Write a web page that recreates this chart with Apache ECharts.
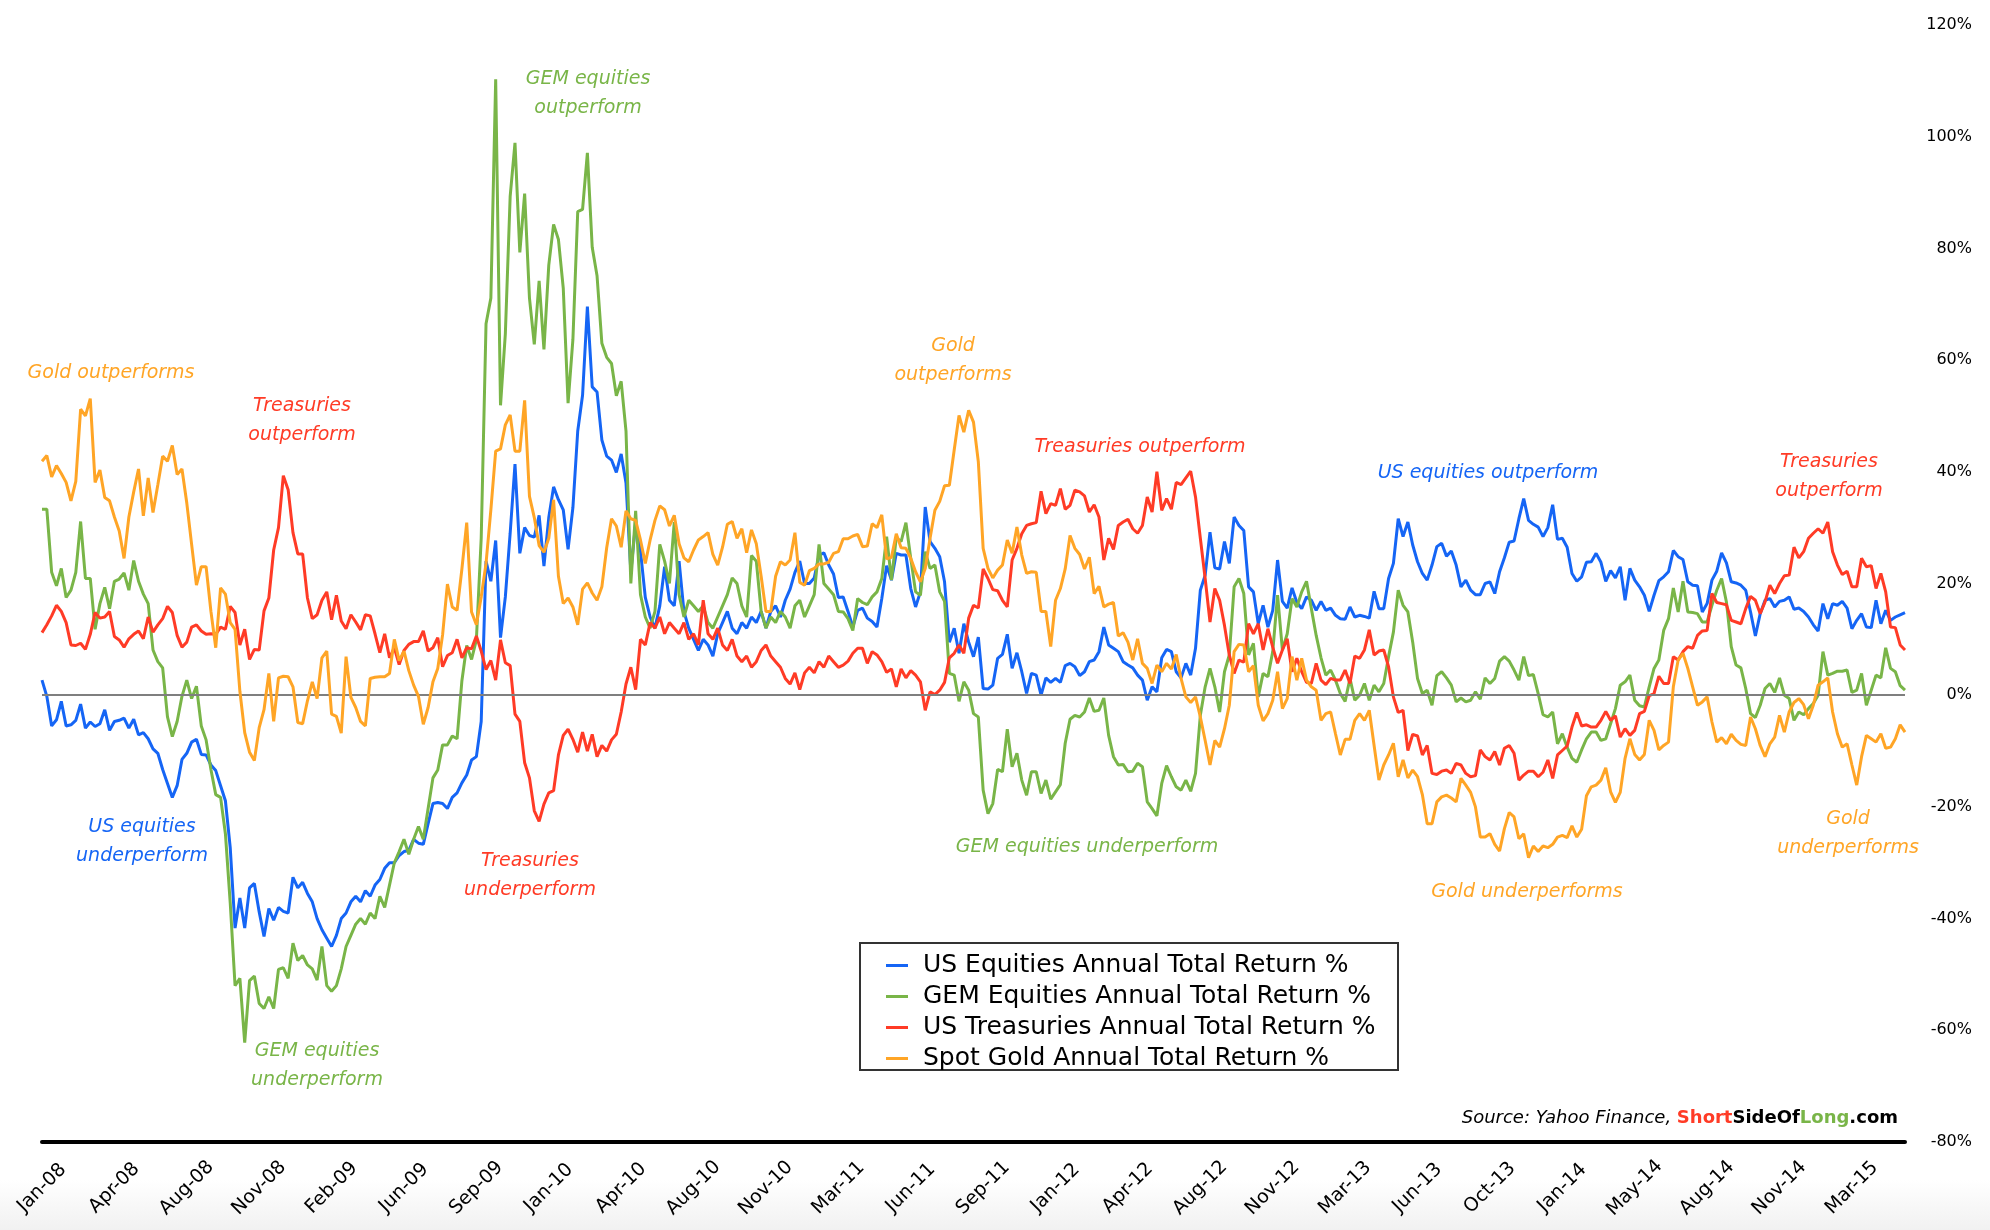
<!DOCTYPE html>
<html><head><meta charset="utf-8">
<script src="https://cdn.jsdelivr.net/npm/echarts@6/dist/echarts.min.js"></script>
<style>html,body{margin:0;padding:0;background:#fff}#c{width:1990px;height:1230px}</style>
</head><body><div id="c"></div>
<script>
// x-axis tick labels, one every 15 weekly observations
const tickLabels = ['Jan-08','Apr-08','Aug-08','Nov-08','Feb-09','Jun-09','Sep-09','Jan-10','Apr-10','Aug-10','Nov-10','Mar-11','Jun-11','Sep-11','Jan-12','Apr-12','Aug-12','Nov-12','Mar-13','Jun-13','Oct-13','Jan-14','May-14','Aug-14','Nov-14','Mar-15'];

const usEquities = [2.7,-0.2,-5.5,-4.4,-1.1,-5.5,-5.3,-4.5,-1.6,-5.9,
-4.8,-5.6,-5.1,-2.6,-6.3,-4.7,-4.5,-4.1,-5.9,-4.3,
-7.1,-6.7,-7.8,-9.6,-10.4,-13.3,-15.8,-18.3,-16.2,-11.5,
-10.4,-8.4,-7.9,-10.6,-10.7,-12.5,-13.5,-16.2,-18.9,-27.3,
-41.7,-36.3,-41.7,-34.5,-33.7,-38.8,-43.2,-38.2,-40.3,-38.0,
-38.7,-39.0,-32.6,-34.5,-33.5,-35.5,
-37,-40,-42,-43.5,-45,-43,-40,-39,-37,-36,-37,-35,-36,-34,-33,-31,-30,-30,
-28.7,-28.0,-27.8,-25.8,-26.5,-26.7,-23.0,-19.4,-19.2,-19.4,-20.3,-18.3,-17.5,-15.7,-14.3,-11.6,-11.0,-4.7,24.0,20.4,27.7,10.3,17.6,29.0,41.4,25.4,30.0,28.6,28.3,32.2,23.1,31.8,37.3,35.0,33.2,26.1,33.6,47.3,53.7,
69.6,55.2,54.3,45.7,42.8,42.1,39.9,43.2,38.0,22.1,30.8,25.8,17.5,
14,12,16,23,17,16,24,15,12,10,8,10,9,7,11,13,15,12,11,13,12,14,13,15,12,15,16,14,17,19,22,24,20,
20,21,25,25.5,23.3,21.7,17.5,
17.6,15.0,12.2,15.2,15.6,13.8,13.2,12.2,17.3,23.2,20.6,25.4,25.1,25.1,19.1,15.8,18.5,33.7,27.5,26.3,24.8,20.3,9.5,12.0,7.5,12.8,9.5,6.9,10.4,1.2,1.1,1.8,6.6,7.3,10.9,4.8,7.6,4.2,0.3,3.9,3.6,0,3.1,2.3,3.0,2.3,5.3,5.7,5.1,3.5,4.2,6.0,6.3,7.8,12.2,9.0,8.4,7.8,6.0,
5.4,4.9,3.6,2.7,-0.9,1.5,0.6,6.7,8.2,7.8,4.2,3.1,5.7,3.6,8.4,18.8,21.5,29.2,22.8,22.6,27.5,23.6,31.9,30.4,29.5,19.4,18.5,12.8,16.1,12.2,15.2,24.2,16.8,15.6,19.2,16.6,15.5,17.6,17.0,15.2,16.8,15.2,15.6,14.3,13.7,13.6,15.8,14.0,14.3,14.1,13.8,18.6,15.5,15.5,20.9,23.6,
31.6,28.4,31.0,26.9,23.9,21.8,20.6,23.3,26.6,27.2,24.9,25.8,23.3,19.4,20.6,18.8,18.0,18.0,20.0,20.3,18.2,22.1,24.6,27.4,27.6,31.6,35.2,31.3,30.6,30.1,28.4,30.0,34.1,27.9,28.1,26.5,21.8,20.4,21.2,23.8,23.9,25.4,23.8,20.4,22.3,21.0,23.0,17.0,22.7,20.6,19.4,17.9,15.0,17.9,20.5,21.2,
22.1,25.9,24.8,24.3,20.3,19.7,19.6,14.9,16.4,20.6,22.2,25.5,23.7,20.3,20.1,19.7,18.8,14.9,10.6,14.6,17.0,17.3,15.8,16.8,17.0,17.6,15.4,15.6,15.0,14.0,12.6,11.5,16.4,13.7,16.4,16.1,16.8,15.6,11.9,13.4,14.6,12.2,12.1,17.0,12.8,15.2,13.4,14.0,14.4,14.8];

const gemEquities = [33.3,33.3,22.0,19.6,22.7,17.5,18.8,22.0,31.1,20.9,
20.9,11.8,16.4,19.3,15.5,20.4,20.8,21.9,18.8,24.1,
20.4,18.1,16.4,8.1,6.0,4.9,-3.9,-7.4,-4.7,-0.2,
2.7,-0.6,1.6,-5.5,-8.0,-13.3,-17.8,-18.3,-24.8,-37.2,
-52.0,-50.7,-62.2,-51.1,-50.3,-55.2,-56.1,-54.0,-56.1,-49.1,
-48.8,-50.7,-44.4,-47.5,-46.6,-48.3,
-49,-51,-45,-52,-53,-52,-49,-45,-43,-41,-40,-41,-39,-40,-36,-38,-34,-30,
-28.0,-25.8,-28.5,-25.8,-23.5,-25.8,-20.3,-14.8,-13.4,-8.9,-8.9,-7.3,-7.8,2.6,8.9,6.4,9.9,28.1,66.5,71.1,110.3,51.9,64.7,89.3,98.9,79.3,89.8,71.1,62.8,74.2,61.9,77.0,84.3,81.6,72.9,52.3,63.7,86.6,87.0,
97.1,80.2,75.1,63.0,60.5,59.4,53.6,56.2,47.3,
20,33,18,14,12,15,27,24,20,31,18,14,17,16,15,16,13,12,14,16,18,21,20,16,14,25,24,15,12,14,13,15,14,12,16,17,14,16,18,27,20,19,18,15,
14.9,13.7,11.6,17.3,16.6,16.2,17.6,18.5,20.9,28.4,20.6,28.2,27.5,30.9,24.5,18.5,17.9,25.7,22.7,23.3,18.5,16.8,3.9,3.6,-1.1,2.4,0.9,-3.3,-3.9,-17.0,-21.2,-19.4,-13.3,-13.7,-6.1,-12.8,-10.4,-15.2,-17.9,-13.7,-13.7,-17.6,-15.2,-18.6,-17.3,-16.0,-8.6,-4.3,-3.6,-3.9,-3.0,-0.5,-2.9,-2.7,-0.5,-7.2,-11.0,-12.5,-12.4,
-13.7,-13.6,-12.2,-12.8,-19.1,-20.3,-21.6,-15.8,-12.6,-14.6,-16.4,-17.0,-15.2,-17.2,-14.0,-3.6,1.5,4.8,1.5,-3.0,4.2,7.2,19.4,20.9,18.2,7.2,9.3,-0.3,3.9,3.3,7.8,17.9,8.1,11.0,17.3,15.8,18.5,20.4,15.5,10.7,6.7,3.6,4.5,2.7,0.3,-1.1,3.0,-0.9,0,2.1,-0.9,1.8,0.6,2.1,6.9,11.3,
18.8,16.1,14.9,9.5,3.0,0.3,0.9,-1.8,3.5,4.2,3.1,1.8,-1.2,-0.5,-1.2,-0.9,0.6,-0.7,3.1,2.1,3.0,6.1,6.9,6.1,4.5,2.7,6.9,3.5,3.7,0.3,-3.5,-3.9,-3.0,-8.7,-6.9,-9.3,-11.3,-12.0,-9.8,-7.8,-6.6,-6.6,-8.1,-7.8,-5.1,-2.4,1.8,2.4,3.6,-0.9,-1.9,-2.1,1.5,4.8,6.3,11.6,
13.7,19.2,14.9,20.4,14.9,14.8,14.6,13.1,13.1,16.1,18.8,20.9,16.7,8.7,5.4,4.9,1.2,-3.3,-4.0,-1.8,1.2,2.1,0.5,3.1,0,-0.6,-4.5,-3.0,-3.5,-2.4,-1.5,0,7.8,3.6,3.9,4.3,4.3,4.5,0.5,0.9,3.9,-1.8,0.9,3.6,3.1,8.5,4.8,4.2,1.7,0.9];

const usTreasuries = [11.2,12.6,14.2,16.1,15.0,13.0,9.0,8.9,9.3,8.2,
10.9,14.8,13.8,14.0,15.0,10.5,9.9,8.6,10.1,10.9,
11.5,10.1,14.0,11.3,12.6,13.7,15.9,14.8,10.7,8.6,
9.5,12.2,12.6,11.5,10.9,11.0,10.9,12.2,11.8,15.9,
14.8,9.0,11.8,6.4,8.2,8.1,15.1,17.4,26.0,30.0,
39.3,36.8,29.1,25.3,25.3,17.4,
13.7,14.4,17.0,18.5,13.5,17.9,13.3,11.9,14.4,13.1,11.7,14.4,14.2,11.0,7.6,11.0,6.7,8.5,5.5,8.0,9.1,9.6,9.6,11.5,7.9,8.5,10.3,5.1,7.1,7.6,10.0,6.7,8.5,8.3,10.6,7.9,4.6,6.2,2.7,9.9,5.8,5.3,-3.4,-4.7,-12.1,-14.8,-20.7,-22.6,-19.5,-17.5,-17.1,-10.7,-7.2,-6.1,-7.9,-10.2,-6.6,
-10,-7,-11,-9,-10,-8,-7,-3,2,5,1,10,9,13,12,14,11,13,12,11,13,10,11,9,17,11,10,12,9,8,10,7,6,7,5,6,8,9,7,6,5,3,2,4,1,4,5,4,6,5,7,6,5,
5.4,6.1,7.5,8.4,8.4,5.7,7.8,7.2,6.0,4.1,4.7,1.5,4.7,3.1,4.4,3.6,2.4,-2.7,0.6,0.1,0.9,2.3,6.7,7.5,9.0,7.5,13.8,16.1,15.6,22.6,20.9,18.9,18.7,17.0,15.8,24.2,26.3,28.9,30.4,30.7,30.9,36.5,32.5,34.3,34.0,37.0,33.3,34.0,36.7,36.4,35.7,32.8,34.1,31.9,24.2,28.1,26.1,30.4,31.0,
31.5,29.8,29.0,30.4,35.5,32.8,40.0,33.1,35.2,33.3,38.1,37.7,38.9,40.1,35.5,28.1,20.9,13.1,19.1,17.0,12.5,7.2,3.9,6.3,5.9,12.8,11.0,12.8,8.1,11.9,8.6,5.7,8.1,10.1,4.2,6.6,4.2,2.3,2.1,5.7,2.7,1.9,3.0,2.7,2.7,4.5,2.1,7.0,6.6,8.1,11.7,7.2,7.9,8.1,5.1,-0.3,
-3.1,-2.7,-9.9,-7.0,-7.3,-10.7,-9.0,-14.0,-14.2,-13.6,-13.4,-14.0,-12.2,-12.5,-14.0,-14.6,-14.4,-9.8,-11.0,-11.6,-10.1,-12.5,-9.5,-9.0,-10.4,-15.2,-14.3,-13.6,-13.6,-14.6,-13.8,-11.6,-14.9,-10.7,-9.9,-9.1,-5.7,-3.1,-5.5,-5.3,-5.7,-5.7,-4.5,-2.9,-4.5,-3.7,-7.5,-6.0,-7.2,-6.3,-3.3,-2.9,-0.1,0.3,3.4,2.1,
2.1,6.9,6.3,7.8,8.7,8.4,10.7,11.5,11.6,18.2,16.6,16.4,16.2,13.4,13.1,12.8,15.5,17.7,17.0,14.6,16.7,19.7,18.2,20.0,21.4,21.5,26.5,24.6,25.7,28.1,29.0,29.8,29.0,31.0,25.7,23.3,21.6,22.2,19.4,19.4,24.5,23.0,23.2,19.1,21.8,18.5,12.2,12.1,9.0,8.1];

const spotGold = [41.9,42.9,39.1,41.1,39.7,38.1,34.8,38.3,51.2,50.0,
53.1,38.1,40.3,35.4,34.8,31.9,29.4,24.5,31.9,36.4,
40.5,32.1,38.9,32.7,37.7,42.8,41.9,44.7,39.5,40.5,
34.4,27.0,19.7,23.0,23.0,15.0,8.5,19.2,18.1,13.0,
11.8,0.7,-6.7,-10.2,-11.7,-5.8,-2.6,3.9,-4.7,3.1,
3.4,3.3,1.5,-4.9,-5.1,-1.0,
2.4,-0.6,6.7,7.9,-3.4,-3.8,-6.8,6.9,-0.4,-2.2,-4.7,-5.5,3.0,3.2,3.3,3.3,3.9,10.0,6.2,7.9,4.4,1.8,-0.2,-5.2,-2.2,2.4,4.8,10.8,19.9,15.8,15.2,22.6,30.9,14.9,12.6,17.6,23.6,33.2,43.7,44.1,48.4,50.2,43.7,43.7,52.8,35.6,31.8,26.8,25.6,28.1,35.0,21.3,16.4,17.4,15.8,12.6,19.0,
20.1,18.3,17.0,19.4,26.4,31.6,30.3,26.5,33.0,31.6,31.3,27.8,23.6,27.8,31.3,33.9,33.2,30.3,32.2,27.1,24.6,23.9,26.0,27.8,28.4,29.1,25.2,23.3,26.5,30.6,31.1,28.1,29.8,25.5,29.6,27.1,21.3,15,15,21.3,23.9,23.3,24.2,29.1,20.2,19.7,22.3,22.7,23.5,23.5,23.8,25.4,25.7,28.0,28.0,
28.5,28.8,26.6,26.7,30.7,30.0,32.3,24.4,24.7,28.9,26.4,26.3,24.5,22.1,20.3,22.7,28.1,33.1,34.7,37.5,37.6,43.9,50.1,47.1,51.0,48.9,41.8,26.3,22.7,21.0,22.4,23.3,27.8,25.4,30.1,25.1,21.8,22.1,22.0,15.0,15.0,8.7,17.0,19.1,22.6,28.6,26.3,25.2,22.6,24.7,18.2,19.5,15.8,16.3,16.6,10.6,11.2,
9.5,6.3,10.1,5.7,4.8,2.1,5.4,4.2,5.7,4.7,7.3,3.0,-0.3,-1.3,-0.3,-3.9,-8.1,-12.5,-8.1,-9.3,-6.0,-1.8,7.8,9.1,9.0,4.2,5.3,-1.8,-4.6,-3.3,-0.9,4.2,-2.4,-0.6,6.9,2.7,6.6,2.7,1.5,0.9,-4.5,-3.3,-3.0,-6.9,-10.7,-7.9,-7.9,-4.5,-3.3,-4.5,-2.7,-9.0,-15.2,-12.5,-10.7,-8.6,
-14.6,-11.6,-14.8,-13.4,-14.6,-17.8,-23.0,-23.0,-19.1,-18.2,-17.9,-18.4,-19.1,-14.9,-16.1,-17.4,-20.0,-25.4,-25.4,-24.8,-26.7,-27.9,-23.9,-21.0,-21.8,-25.7,-24.8,-29.1,-27.0,-28.0,-27.0,-27.3,-26.7,-25.4,-25.1,-25.5,-23.4,-25.4,-24.0,-18.0,-16.4,-16.1,-15.2,-13.0,-17.3,-19.2,-17.4,-11.3,-7.8,-10.6,-11.6,-10.6,-4.5,-6.3,-9.8,-9.0,
-8.4,1.5,6.3,7.5,4.8,1.5,-1.8,-1.2,-0.3,-4.8,-8.4,-7.6,-8.7,-7.0,-8.1,-8.8,-9.0,-3.9,-6.0,-9.0,-11.0,-8.7,-7.5,-3.6,-6.6,-3.0,-1.3,-0.6,-1.7,-4.2,-1.8,1.8,2.4,3.1,-3.0,-6.9,-9.3,-8.7,-12.5,-16.1,-11.0,-7.2,-7.8,-8.4,-6.9,-9.5,-9.3,-7.8,-5.3,-6.6];

const seriesNames = ['US Equities Annual Total Return %','GEM Equities Annual Total Return %','US Treasuries Annual Total Return %','Spot Gold Annual Total Return %'];
const seriesColors = ['#1565F5','#79B548','#FF3B26','#FFA526'];
const seriesData = [usEquities, gemEquities, usTreasuries, spotGold];

// week index categories
const weeks = usEquities.map((_, i) => String(i));

const annotations = [
  {text:'Gold outperforms', c:3, x:111, y:373},
  {text:'Treasuries\noutperform', c:2, x:302, y:421},
  {text:'GEM equities\noutperform', c:1, x:588, y:94},
  {text:'Gold\noutperforms', c:3, x:953, y:361},
  {text:'Treasuries outperform', c:2, x:1140, y:447},
  {text:'US equities outperform', c:0, x:1488, y:473},
  {text:'Treasuries\noutperform', c:2, x:1829, y:477},
  {text:'US equities\nunderperform', c:0, x:142, y:842},
  {text:'GEM equities\nunderperform', c:1, x:317, y:1066},
  {text:'Treasuries\nunderperform', c:2, x:530, y:876},
  {text:'GEM equities underperform', c:1, x:1087, y:847},
  {text:'Gold underperforms', c:3, x:1527, y:892},
  {text:'Gold\nunderperforms', c:3, x:1848, y:834}
];

const FONT = '"DejaVu Sans", Verdana, sans-serif';
const chart = echarts.init(document.getElementById('c'), null, {renderer:'canvas'});

const graphics = [
  {type:'rect', z:0, shape:{x:0, y:1180, width:1990, height:50},
   style:{fill:new echarts.graphic.LinearGradient(0,0,0,1,[{offset:0,color:'#ffffff'},{offset:1,color:'#f1f1f1'}])}},
  {type:'rect', z:3, shape:{x:860, y:943, width:538, height:127},
   style:{fill:'#ffffff', stroke:'#333333', lineWidth:2}},
  {type:'text', z:5, x:1898, y:1118, style:{
    text:'{a|Source: Yahoo Finance, }{r|Short}{b|SideOf}{g|Long}{b|.com}',
    align:'right', verticalAlign:'middle',
    rich:{
      a:{fontFamily:FONT, fontSize:18, fontStyle:'italic', fill:'#000'},
      r:{fontFamily:FONT, fontSize:18, fontWeight:'bold', fill:'#FF3B26'},
      b:{fontFamily:FONT, fontSize:18, fontWeight:'bold', fill:'#000'},
      g:{fontFamily:FONT, fontSize:18, fontWeight:'bold', fill:'#79B548'}
    }
  }}
];
annotations.forEach(a => graphics.push({
  type:'text', z:5, x:a.x, y:a.y,
  style:{text:a.text, fill:seriesColors[a.c], fontFamily:FONT, fontSize:19, fontStyle:'italic',
         align:'center', verticalAlign:'middle', lineHeight:29}
}));

const series = [{
  type:'line', data:[], silent:true, z:1,
  markLine:{silent:true, symbol:'none', label:{show:false},
    lineStyle:{color:'#7f7f7f', width:2, type:'solid'}, data:[{yAxis:0}], animation:false}
}];
seriesData.forEach((d, k) => series.push({
  name:seriesNames[k], type:'line', data:d, symbol:'none', showSymbol:false,
  lineStyle:{width:3, color:seriesColors[k]}, itemStyle:{color:seriesColors[k]}, z:2+k
}));

chart.setOption({
  animation:false,
  backgroundColor:'#ffffff',
  grid:{left:42, right:85, top:25, bottom:88, containLabel:false},
  legend:{
    orient:'vertical', left:881, top:948, itemWidth:22, itemHeight:3, itemGap:6, icon:'rect',
    data:seriesNames, selectedMode:false,
    textStyle:{fontFamily:FONT, fontSize:25, color:'#000', lineHeight:25, padding:[0,0,0,10]}
  },
  xAxis:{
    type:'category', data:weeks, boundaryGap:false,
    axisLine:{show:true, onZero:false, lineStyle:{color:'#000', width:4}},
    axisTick:{show:false},
    splitLine:{show:false},
    axisLabel:{interval:14, rotate:45, align:'center', verticalAlign:'middle', margin:46,
      fontFamily:FONT, fontSize:19, color:'#000',
      formatter:(v, i) => tickLabels[Math.round(i/15)] || ''}
  },
  yAxis:{
    type:'value', position:'right', min:-80, max:120, interval:20,
    axisLine:{show:false}, axisTick:{show:false}, splitLine:{show:false},
    axisLabel:{formatter:'{value}%', align:'right', margin:67, fontFamily:FONT, fontSize:16, color:'#000'}
  },
  graphic:graphics,
  series:series
});
</script>
</body></html>
